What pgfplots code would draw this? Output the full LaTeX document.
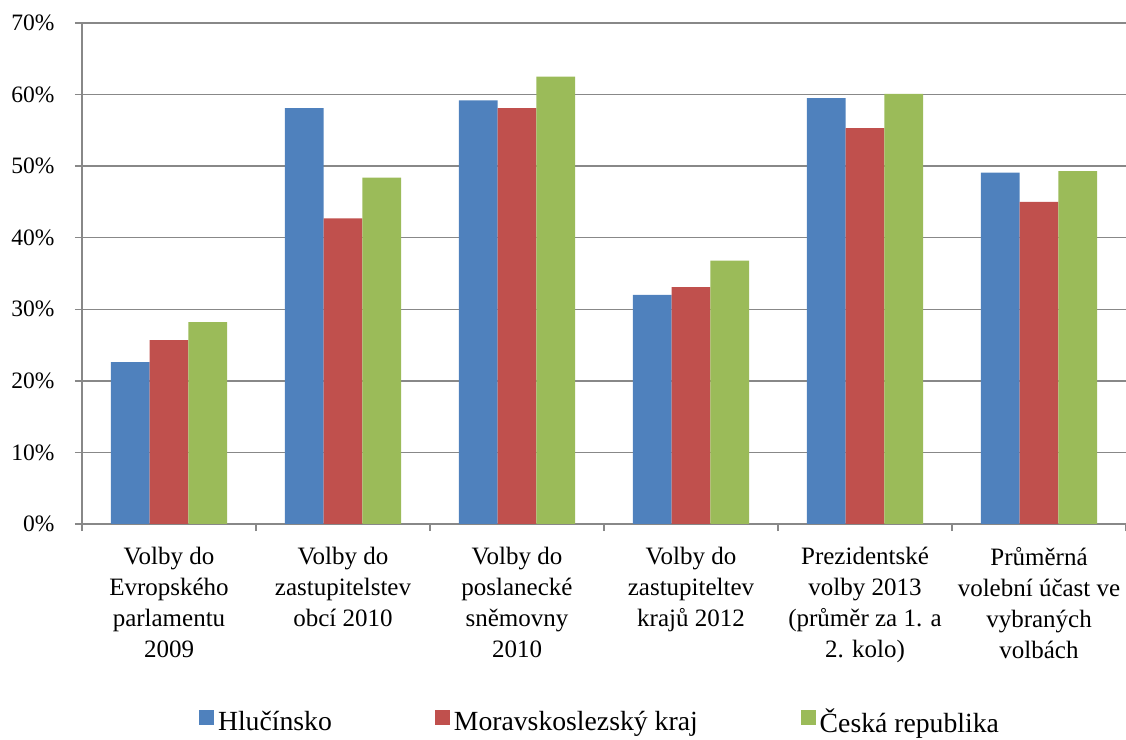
\documentclass[border=0pt]{standalone}
\usepackage{fontspec}
\setmainfont{Liberation Serif}
\usepackage{pgfplots}
\pgfplotsset{compat=1.18}
\definecolor{cblue}{HTML}{4F81BD}
\definecolor{cred}{HTML}{C0504D}
\definecolor{cgreen}{HTML}{9BBB59}
\definecolor{cgrid}{HTML}{888888}
\begin{document}
\begin{tikzpicture}[font=\fontsize{25bp}{31bp}\selectfont]
\path[use as bounding box] (0,0) rectangle (1126bp,740bp);
\begin{axis}[
    at={(82bp,216bp)}, anchor=south west,
    scale only axis,
    width=1044bp, height=501bp,
    ybar=0pt,
    bar width=38.7bp,
    xmin=-0.5, xmax=5.5,
    ymin=0, ymax=70,
    axis x line*=bottom,
    axis y line*=left,
    axis line style={cgrid, line width=1.5bp},
    ymajorgrids,
    major grid style={cgrid, line width=1.5bp},
    ytick={0,10,...,70},
    yticklabels={0\%,10\%,20\%,30\%,40\%,50\%,60\%,70\%},
    xtick={0,...,5},
    xticklabels={
        {Volby do\\Evropského\\parlamentu\\2009},
        {Volby do\\zastupitelstev\\obcí 2010},
        {Volby do\\poslanecké\\sněmovny\\2010},
        {Volby do\\zastupiteltev\\krajů 2012},
        {Prezidentské\\volby 2013\\(průměr za 1. a\\2. kolo)},
        {Průměrná\\volební účast ve\\vybraných\\volbách}},
    minor xtick={-0.5,0.5,...,5.5},
    x tick style={draw=none},
    minor x tick style={draw=cgrid, line width=1.5bp},
    y tick style={draw=cgrid, line width=1.5bp},
    tick align=outside,
    major tick length=7bp,
    minor tick length=7bp,
    xticklabel style={align=center, anchor=north, yshift=-13bp},
    yticklabel style={font=\fontsize{23.5bp}{28bp}\selectfont, xshift=-17bp},
    legend columns=3,
    legend style={at={(0.5,0)}, anchor=north, xshift=-4bp, yshift=-181bp,
        draw=none, fill=none, font=\fontsize{27.7bp}{32bp}\selectfont,
        /tikz/every odd column/.append style={column sep=2bp},
        /tikz/every even column/.append style={column sep=101bp}},
    legend image code/.code={\fill[#1] (0bp,-3bp) rectangle (15bp,12bp);},
]
\addplot[fill=cblue, draw=none] coordinates {(0,22.6) (1,58.1) (2,59.2) (3,32.0) (4,59.5) (5,49.1)};
\addplot[fill=cred, draw=none] coordinates {(0,25.7) (1,42.7) (2,58.1) (3,33.1) (4,55.3) (5,45.0)};
\addplot[fill=cgreen, draw=none] coordinates {(0,28.2) (1,48.4) (2,62.5) (3,36.8) (4,60.1) (5,49.3)};
\legend{Hlučínsko, Moravskoslezský kraj, Česká republika}
\end{axis}
\end{tikzpicture}
\end{document}
